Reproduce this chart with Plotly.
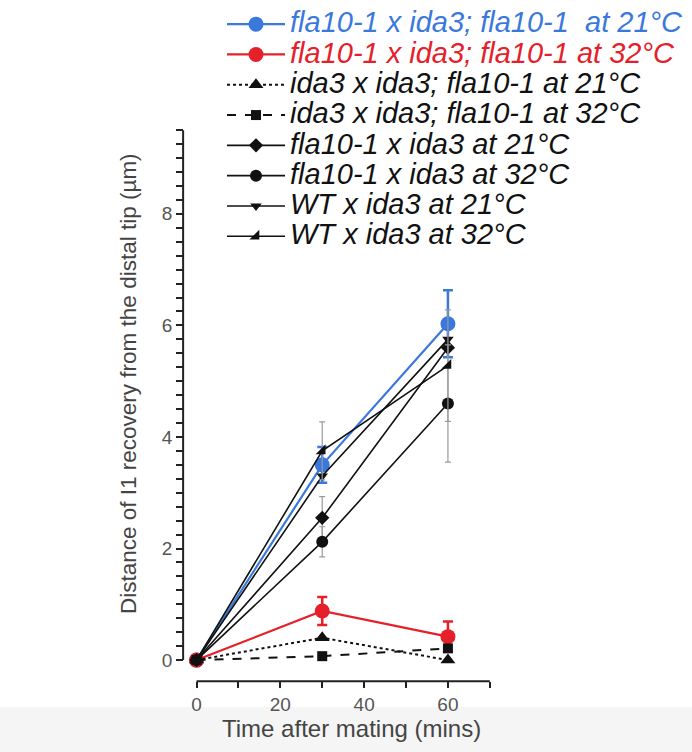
import plotly.graph_objects as go

# ---------------- data ----------------
time_min = [0, 30, 60]

blue_vals = [0, 3.50, 6.03]
blue_err = [0, 0.32, 0.60]

red_vals = [0, 0.88, 0.42]
red_err = [0, 0.25, 0.27]

ida3_21_vals = [0, 0.40, 0.0]
ida3_32_vals = [0, 0.07, 0.21]

fla_21_vals = [0, 2.55, 5.60]
fla_21_err = [0, 0.38, 0.0]

fla_32_vals = [0, 2.12, 4.60]
fla_32_err = [0, 0.27, 1.05]

wt_21_vals = [0, 3.30, 5.75]

wt_32_vals = [0, 3.75, 5.28]
wt_32_err = [0, 0.52, 1.00]

names = [
    "fla10-1 x ida3; fla10-1\u00a0\u00a0at 21°C",
    "fla10-1 x ida3; fla10-1 at 32°C",
    "ida3 x ida3; fla10-1 at 21°C",
    "ida3 x ida3; fla10-1 at 32°C",
    "fla10-1 x ida3 at 21°C",
    "fla10-1 x ida3 at 32°C",
    "WT x ida3 at 21°C",
    "WT x ida3 at 32°C",
]

x_tick_vals = [0, 20, 40, 60]
x_tick_text = ["0", "20", "40", "60"]
x_minor_ticks = [10, 30, 50, 70]
y_tick_vals = [0, 2, 4, 6, 8]
y_tick_text = ["0", "2", "4", "6", "8"]
y_minor_ticks = [i * 0.25 for i in range(1, 39) if i % 8 != 0]

x_title = "Time after mating (mins)"
y_title = "Distance of I1 recovery from the distal tip (µm)"

# ---------------- layout geometry ----------------
W, H = 692, 752
ML, MR, MT, MB = 176, 194, 119, 59
PW, PH = W - ML - MR, H - MT - MB
X_RANGE = [-4.9, 71.95]
Y_RANGE = [-0.59, 9.70]
Y_AXIS_X = -3.2     # where the detached y axis sits (data units)
X_AXIS_Y = -0.38    # where the detached x axis sits (data units)

BLUE = "#3b78dd"
RED = "#e5202a"
BLACK = "#111111"
GRAYERR = "#9a9a9a"
FONT = "Liberation Sans, Arial, sans-serif"


def span(text, color):
    return '<span style="font-size:29px;color:%s">%s</span>' % (color, text)


fig = go.Figure()

traces = [
    # vals, err, name, color, symbol, size, dash, lw, errcolor, errthick, errwidth
    (blue_vals, blue_err, names[0], BLUE, "circle", 15, "solid", 2.2, BLUE, 2.5, 5),
    (red_vals, red_err, names[1], RED, "circle", 15, "solid", 2.2, RED, 2.5, 5),
    (ida3_21_vals, None, names[2], BLACK, "triangle-up", 13, "dot", 2.0, GRAYERR, 1.2, 3),
    (ida3_32_vals, None, names[3], BLACK, "square", 10, "dash", 2.0, GRAYERR, 1.2, 3),
    (fla_21_vals, fla_21_err, names[4], BLACK, "diamond", 11, "solid", 1.6, GRAYERR, 1.2, 3),
    (fla_32_vals, fla_32_err, names[5], BLACK, "circle", 12, "solid", 1.6, GRAYERR, 1.2, 3),
    (wt_21_vals, None, names[6], BLACK, "triangle-down", 10, "solid", 1.6, GRAYERR, 1.2, 3),
    (wt_32_vals, wt_32_err, names[7], BLACK, "triangle-se", 11, "solid", 1.6, GRAYERR, 1.2, 3),
]

for vals, err, name, color, sym, size, dash, lw, ecol, eth, ew in traces:
    kw = {}
    if err is not None:
        kw["error_y"] = dict(type="data", array=err, visible=True, color=ecol,
                             thickness=eth, width=ew)
    fig.add_trace(go.Scatter(
        x=time_min, y=vals, mode="lines+markers",
        name=span(name, color),
        line=dict(color=color, width=lw, dash=dash),
        marker=dict(symbol=sym, size=size, color=color),
        cliponaxis=False,
        **kw,
    ))

shapes = [
    # faint gray band at the bottom of the page (screenshot background)
    dict(type="rect", xref="paper", yref="paper",
         x0=-0.7, x1=1.8,
         y0=-(MB + 5) / PH, y1=-14 / PH,
         fillcolor="#f5f5f5", line=dict(width=0), layer="below"),
    # detached axis lines (Prism style)
    dict(type="line", xref="x", yref="y", x0=Y_AXIS_X, x1=Y_AXIS_X,
         y0=y_tick_vals[0], y1=y_minor_ticks[-1],
         line=dict(color="#222", width=2)),
    dict(type="line", xref="x", yref="y", x0=x_tick_vals[0], x1=x_minor_ticks[-1],
         y0=X_AXIS_Y, y1=X_AXIS_Y, line=dict(color="#222", width=2)),
]

xpos = (Y_AXIS_X - X_RANGE[0]) / (X_RANGE[1] - X_RANGE[0])
ypos = (X_AXIS_Y - Y_RANGE[0]) / (Y_RANGE[1] - Y_RANGE[0])

fig.update_layout(
    width=W, height=H,
    margin=dict(l=ML, r=MR, t=MT, b=MB, autoexpand=False),
    paper_bgcolor="white", plot_bgcolor="white",
    font=dict(family=FONT, color="#444"),
    shapes=shapes,
    showlegend=True,
    legend=dict(
        x=(222 - ML) / PW, y=(H - MB - 4) / PH,
        xanchor="left", yanchor="top",
        font=dict(family=FONT, size=21, style="italic", color="#111"),
        bgcolor="rgba(0,0,0,0)", itemwidth=58, tracegroupgap=0,
    ),
    xaxis=dict(
        range=X_RANGE, anchor="free", position=ypos,
        showline=False, zeroline=False, showgrid=False,
        tickmode="array", tickvals=x_tick_vals, ticktext=x_tick_text,
        ticks="outside", ticklen=6, tickwidth=2, tickcolor="#222",
        minor=dict(tickmode="array", tickvals=x_minor_ticks, ticks="outside",
                   ticklen=6, tickwidth=2, tickcolor="#222"),
        tickfont=dict(family=FONT, size=19, color="#555"),
    ),
    yaxis=dict(
        range=Y_RANGE, anchor="free", position=xpos,
        showline=False, zeroline=False, showgrid=False,
        tickmode="array", tickvals=y_tick_vals, ticktext=y_tick_text,
        ticks="outside", ticklen=7, tickwidth=2, tickcolor="#222",
        minor=dict(tickmode="array", tickvals=y_minor_ticks, ticks="outside",
                   ticklen=7, tickwidth=2, tickcolor="#222"),
        tickfont=dict(family=FONT, size=19, color="#555"),
    ),
    annotations=[
        dict(text=x_title, xref="paper", yref="paper",
             x=(351 - ML) / PW, y=-(728 - (H - MB)) / PH,
             xanchor="center", yanchor="middle", showarrow=False,
             font=dict(family=FONT, size=24, color="#444")),
        dict(text=y_title, xref="paper", yref="paper", textangle=-90,
             x=(128 - ML) / PW, y=((H - MB) - 384) / PH,
             xanchor="center", yanchor="middle", showarrow=False,
             font=dict(family=FONT, size=22.5, color="#444")),
    ],
)

fig.write_html("out.html", config={"displayModeBar": False},
               post_script="document.body.style.margin='0';")
